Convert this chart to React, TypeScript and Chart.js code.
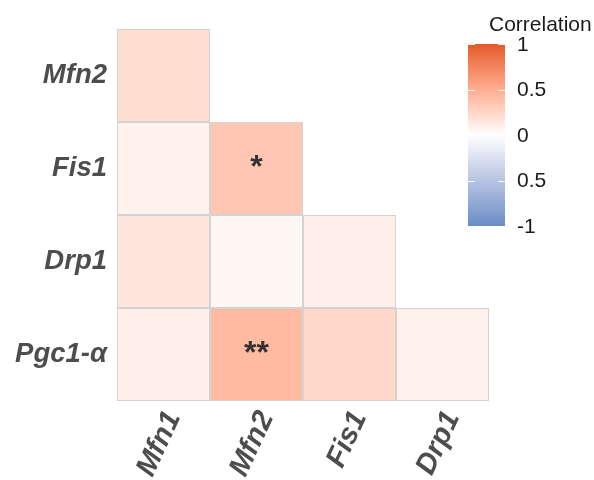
import React, { useEffect, useRef } from 'react';
import { Chart, registerables } from 'chart.js';
Chart.register(...registerables);

// ---- data ----
const columns = ['Mfn1', 'Mfn2', 'Fis1', 'Drp1'];
const rows = ['Mfn2', 'Fis1', 'Drp1', 'Pgc1-α'];
const corrMfn2 = [0.2, null, null, null];
const corrFis1 = [0.085, 0.34, null, null];
const corrDrp1 = [0.16, 0.05, 0.095, null];
const corrPgc1 = [0.1, 0.42, 0.235, 0.085];
const sigMfn2 = ['', '', '', ''];
const sigFis1 = ['', '*', '', ''];
const sigDrp1 = ['', '', '', ''];
const sigPgc1 = ['', '**', '', ''];
const legendTitle = 'Correlation';
const legendTicks = [1, 0.5, 0, -0.5, -1];
const legendTickLabels = ['1', '0.5', '0', '0.5', '-1'];

const corrRows = [corrMfn2, corrFis1, corrDrp1, corrPgc1];
const sigRows = [sigMfn2, sigFis1, sigDrp1, sigPgc1];

// ---- colour scale (Lab interpolation like ggplot gradient2) ----
const LOW = '#6A8DC6';
const MID = '#FFFFFF';
const HIGH = '#E4582A';

function hexToRgb(h: string) {
  const n = parseInt(h.slice(1), 16);
  return [(n >> 16) & 255, (n >> 8) & 255, n & 255];
}
function lin(c: number) {
  c /= 255;
  return c <= 0.04045 ? c / 12.92 : Math.pow((c + 0.055) / 1.055, 2.4);
}
function unlin(c: number) {
  const v = c <= 0.0031308 ? 12.92 * c : 1.055 * Math.pow(c, 1 / 2.4) - 0.055;
  return Math.max(0, Math.min(255, Math.round(v * 255)));
}
const Xn = 0.95047, Yn = 1.0, Zn = 1.08883;
function f(t: number) {
  return t > 216 / 24389 ? Math.cbrt(t) : (24389 / 27 * t + 16) / 116;
}
function finv(t: number) {
  return t * t * t > 216 / 24389 ? t * t * t : (116 * t - 16) / (24389 / 27);
}
function toLab(h: string) {
  const [r0, g0, b0] = hexToRgb(h);
  const r = lin(r0), g = lin(g0), b = lin(b0);
  const X = (0.4124 * r + 0.3576 * g + 0.1805 * b) / Xn;
  const Y = (0.2126 * r + 0.7152 * g + 0.0722 * b) / Yn;
  const Z = (0.0193 * r + 0.1192 * g + 0.9505 * b) / Zn;
  const fx = f(X), fy = f(Y), fz = f(Z);
  return [116 * fy - 16, 500 * (fx - fy), 200 * (fy - fz)];
}
function labToRgb(L: number, a: number, bb: number) {
  const fy = (L + 16) / 116;
  const fx = fy + a / 500;
  const fz = fy - bb / 200;
  const X = finv(fx) * Xn, Y = finv(fy) * Yn, Z = finv(fz) * Zn;
  const r = 3.2406 * X - 1.5372 * Y - 0.4986 * Z;
  const g = -0.9689 * X + 1.8758 * Y + 0.0415 * Z;
  const b = 0.0557 * X - 0.204 * Y + 1.057 * Z;
  return `rgb(${unlin(r)},${unlin(g)},${unlin(b)})`;
}
const labLow = toLab(LOW), labMid = toLab(MID), labHigh = toLab(HIGH);
function colorFor(v: number) {
  const t = Math.max(-1, Math.min(1, v));
  const end = t >= 0 ? labHigh : labLow;
  const k = Math.abs(t);
  return labToRgb(
    labMid[0] + (end[0] - labMid[0]) * k,
    labMid[1] + (end[1] - labMid[1]) * k,
    labMid[2] + (end[2] - labMid[2]) * k
  );
}

const FONT = "'Liberation Sans', Arial, Helvetica, sans-serif";

const sigPlugin = {
  id: 'sigLabels',
  afterDatasetsDraw(chart: any) {
    const ctx = chart.ctx;
    ctx.save();
    ctx.font = `bold 32px ${FONT}`;
    ctx.fillStyle = '#333333';
    ctx.textAlign = 'center';
    ctx.textBaseline = 'middle';
    chart.data.datasets.forEach((ds: any, i: number) => {
      const meta = chart.getDatasetMeta(i);
      meta.data.forEach((el: any, j: number) => {
        const s = sigRows[i][j];
        if (!s || corrRows[i][j] == null) return;
        ctx.fillText(s, el.x, (el.y + el.base) / 2);
      });
    });
    ctx.restore();
  },
};

const legendPlugin = {
  id: 'colorbar',
  afterDraw(chart: any) {
    const ctx = chart.ctx;
    const x0 = 468, w = 37, top = 44, bottom = 226;
    ctx.save();
    const grad = ctx.createLinearGradient(0, top, 0, bottom);
    for (let k = 0; k <= 40; k++) {
      const v = 1 - (2 * k) / 40;
      grad.addColorStop(k / 40, colorFor(v));
    }
    ctx.fillStyle = grad;
    ctx.fillRect(x0, top, w, bottom - top);
    const yOf = (v: number) => top + ((1 - v) / 2) * (bottom - top);
    ctx.strokeStyle = 'rgba(255,255,255,0.9)';
    ctx.lineWidth = 1;
    legendTicks.forEach((v) => {
      const y = Math.round(yOf(v)) + 0.5;
      ctx.beginPath();
      ctx.moveTo(x0, y);
      ctx.lineTo(x0 + 7, y);
      ctx.moveTo(x0 + w - 7, y);
      ctx.lineTo(x0 + w, y);
      ctx.stroke();
    });
    ctx.fillStyle = '#1a1a1a';
    ctx.font = `21px ${FONT}`;
    ctx.textAlign = 'left';
    ctx.textBaseline = 'middle';
    legendTicks.forEach((v, k) => {
      ctx.fillText(legendTickLabels[k], 517, yOf(v) + 1);
    });
    ctx.textBaseline = 'alphabetic';
    ctx.fillText(legendTitle, 489, 31);
    ctx.restore();
  },
};

export default function App() {
  const ref = useRef<HTMLCanvasElement>(null);
  useEffect(() => {
    if (!ref.current) return;
    const datasets = rows.map((r, i) => ({
      label: r,
      data: corrRows[i].map((v) => (v == null ? null : [i, i + 1])),
      backgroundColor: corrRows[i].map((v) => (v == null ? 'rgba(0,0,0,0)' : colorFor(v))),
      borderColor: 'rgba(110,110,110,0.3)',
      borderWidth: 1,
      borderSkipped: false,
      inflateAmount: 0,
      barPercentage: 1,
      categoryPercentage: 1,
      grouped: false,
    }));
    const chart = new Chart(ref.current, {
      type: 'bar',
      data: { labels: columns, datasets: datasets as any },
      options: {
        animation: false,
        responsive: false,
        devicePixelRatio: 1,
        layout: { padding: { top: 29, right: 105, left: 0, bottom: 0 } },
        plugins: { legend: { display: false }, tooltip: { enabled: false } },
        scales: {
          x: {
            type: 'category',
            offset: true,
            grid: { display: false, drawTicks: false },
            border: { display: false },
            ticks: {
              minRotation: 65,
              maxRotation: 65,
              padding: 5,
              labelOffset: 10,
              color: '#4d4d4d',
              font: { family: FONT, size: 29, weight: 'bold', style: 'italic' },
            },
            afterFit: (s: any) => {
              s.height = 79;
            },
          },
          y: {
            type: 'linear',
            reverse: true,
            min: 0,
            max: 4,
            grid: { display: false, drawTicks: false },
            border: { display: false },
            afterBuildTicks: (s: any) => {
              s.ticks = rows.map((_, i) => ({ value: i + 0.5 }));
            },
            ticks: {
              padding: 10,
              color: '#4d4d4d',
              font: { family: FONT, size: 27.5, weight: 'bold', style: 'italic' },
              callback: (v: any) => rows[Math.floor(Number(v))] ?? '',
            },
            afterFit: (s: any) => {
              s.width = 117;
            },
          },
        },
      } as any,
      plugins: [sigPlugin, legendPlugin],
    });
    return () => chart.destroy();
  }, []);
  return (
    <div style={{ position: 'fixed', left: 0, top: 0, width: 594, height: 480, background: '#fff' }}>
      <canvas ref={ref} width={594} height={480} style={{ width: 594, height: 480, display: 'block' }} />
    </div>
  );
}
